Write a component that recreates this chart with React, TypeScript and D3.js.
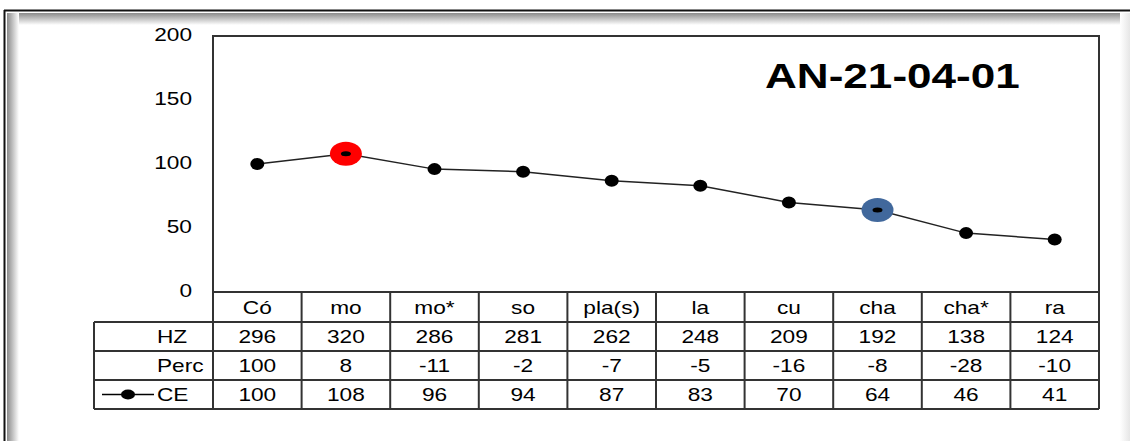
import React from 'react';
import * as d3 from 'd3';

const categories = ['Có', 'mo', 'mo*', 'so', 'pla(s)', 'la', 'cu', 'cha', 'cha*', 'ra'];
const hzValues = [296, 320, 286, 281, 262, 248, 209, 192, 138, 124];
const percValues = [100, 8, -11, -2, -7, -5, -16, -8, -28, -10];
const ceValues = [100, 108, 96, 94, 87, 83, 70, 64, 46, 41];
const yTicks = [0, 50, 100, 150, 200];
const highlights = [
  { index: 1, color: '#ff0000' },
  { index: 7, color: '#41689c' },
];
const title = 'AN-21-04-01';

const W = 1130;
const H = 441;
const STRETCH = 1.26;
const FONT = 'Arial, "Liberation Sans", sans-serif';

// stretched text, the source image is widened horizontally
const SText = ({ x, y, size = 18, anchor = 'middle', weight = 'normal', children }: any) => (
  <text
    transform={`translate(${x},${y}) scale(${STRETCH},1)`}
    textAnchor={anchor}
    fontSize={size}
    fontWeight={weight}
    fontFamily={FONT}
    fill="#000"
  >
    {children}
  </text>
);

export default function App() {
  const plotLeft = 213;
  const plotRight = 1099;
  const plotTop = 36;
  const plotBottom = 292;
  const rowH = [30, 29, 29, 29];
  const tableLeft = 94;

  const x = d3.scaleBand<string>().domain(categories).range([plotLeft, plotRight]);
  const y = d3.scaleLinear().domain([0, 200]).range([plotBottom, plotTop]);
  const cx = (c: string) => (x(c) as number) + x.bandwidth() / 2;

  const line = d3
    .line<number>()
    .x((_, i) => cx(categories[i]))
    .y((d) => y(d));

  const rowTops: number[] = [];
  let acc = plotBottom;
  rowH.forEach((h) => {
    rowTops.push(acc);
    acc += h;
  });
  const tableBottom = acc;
  const rows = [
    { label: 'HZ', values: hzValues },
    { label: 'Perc', values: percValues },
    { label: 'CE', values: ceValues },
  ];
  const stroke = '#333';

  return (
    <svg width={W} height={H} style={{ position: 'absolute', left: 0, top: 0, background: '#fff' }}>
      <defs>
        <linearGradient id="shTop" x1="0" y1="0" x2="0" y2="1">
          <stop offset="0" stopColor="#8a8a8a" />
          <stop offset="1" stopColor="#ffffff" />
        </linearGradient>
        <linearGradient id="shLeft" x1="0" y1="0" x2="1" y2="0">
          <stop offset="0" stopColor="#8a8a8a" />
          <stop offset="1" stopColor="#ffffff" />
        </linearGradient>
        <linearGradient id="shRight" x1="0" y1="0" x2="1" y2="0">
          <stop offset="0" stopColor="#ffffff" />
          <stop offset="1" stopColor="#e6e6e6" />
        </linearGradient>
      </defs>

      {/* outer frame with inner shadow */}
      <rect x={0} y={0} width={W} height={H} fill="#fff" />
      <rect x={7} y={13} width={W - 7} height={12} fill="url(#shTop)" />
      <rect x={7} y={13} width={12} height={H - 13} fill="url(#shLeft)" />
      <rect x={1120} y={13} width={10} height={H - 13} fill="url(#shRight)" />
      <line x1={4} x2={W} y1={10.5} y2={10.5} stroke="#111" strokeWidth={2} />
      <line x1={4.5} x2={4.5} y1={10} y2={H} stroke="#111" strokeWidth={2} />

      {/* plot frame */}
      <rect
        x={plotLeft}
        y={plotTop}
        width={plotRight - plotLeft}
        height={plotBottom - plotTop}
        fill="#fff"
        stroke={stroke}
        strokeWidth={2}
      />

      {/* y tick labels */}
      {yTicks.map((t) => (
        <SText key={t} x={192} y={y(t) + 5} anchor="end">
          {t}
        </SText>
      ))}

      <SText x={765} y={88} size={35} anchor="start" weight="bold">
        {title}
      </SText>

      {/* series */}
      <path d={line(ceValues) as string} fill="none" stroke="#222" strokeWidth={1.5} />
      {ceValues.map((v, i) => {
        const hl = highlights.find((h) => h.index === i);
        if (hl) {
          return (
            <g key={i}>
              <ellipse cx={cx(categories[i])} cy={y(v)} rx={16} ry={12} fill={hl.color} />
              <ellipse cx={cx(categories[i])} cy={y(v)} rx={5} ry={2.5} fill="#000" />
            </g>
          );
        }
        return <ellipse key={i} cx={cx(categories[i])} cy={y(v)} rx={7} ry={6} fill="#000" />;
      })}

      {/* data table */}
      <g fill="none" stroke={stroke} strokeWidth={2}>
        <line x1={plotLeft} x2={plotRight} y1={rowTops[0]} y2={rowTops[0]} />
        {rowTops.slice(1).map((t) => (
          <line key={t} x1={tableLeft} x2={plotRight} y1={t} y2={t} />
        ))}
        <line x1={tableLeft} x2={plotRight} y1={tableBottom} y2={tableBottom} />
        <line x1={tableLeft} x2={tableLeft} y1={rowTops[1]} y2={tableBottom} />
        {categories.map((c) => (
          <line key={c} x1={x(c) as number} x2={x(c) as number} y1={rowTops[0]} y2={tableBottom} />
        ))}
        <line x1={plotRight} x2={plotRight} y1={plotTop} y2={tableBottom} />
      </g>

      {categories.map((c) => (
        <SText key={c} x={cx(c)} y={rowTops[0] + rowH[0] / 2 + 6.5}>
          {c}
        </SText>
      ))}

      {rows.map((r, ri) => {
        const mid = rowTops[ri + 1] + rowH[ri + 1] / 2;
        return (
          <g key={r.label}>
            <SText x={157} y={mid + 6.5} anchor="start">
              {r.label}
            </SText>
            {r.values.map((v, i) => (
              <SText key={i} x={cx(categories[i])} y={mid + 6.5}>
                {v}
              </SText>
            ))}
          </g>
        );
      })}

      {/* legend key in CE row */}
      {(() => {
        const mid = rowTops[3] + rowH[3] / 2;
        return (
          <g>
            <line x1={102} x2={154} y1={mid} y2={mid} stroke="#000" strokeWidth={1.5} />
            <ellipse cx={128} cy={mid} rx={7} ry={5} fill="#000" />
          </g>
        );
      })()}
    </svg>
  );
}
